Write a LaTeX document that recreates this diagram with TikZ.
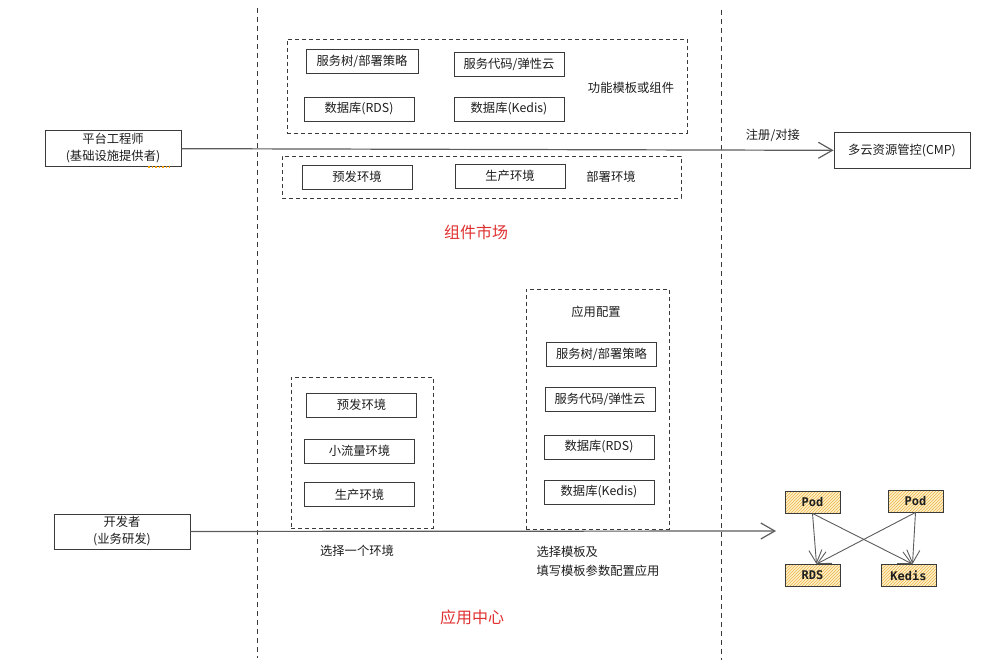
\documentclass[tikz,border=0pt]{standalone}
\usepackage{fontspec}
\setmainfont{Noto Sans CJK SC}
\newfontfamily\podfont{DejaVu Sans Mono}
\usetikzlibrary{arrows.meta, positioning, patterns}
\definecolor{pltInk}{HTML}{1e1e1e}
\definecolor{pltLine}{HTML}{3a3a3a}
\definecolor{pltArrow}{HTML}{5c5c5c}
\definecolor{pltRed}{HTML}{e03131}
\definecolor{pltPod}{HTML}{fdf0c8}
\definecolor{pltHatch}{HTML}{f0b44c}
\definecolor{pltDot}{HTML}{f59f00}

\begin{document}
\begin{tikzpicture}[x=1pt, y=-1pt, font=\fontsize{12.3}{14.5}\selectfont, text=pltInk,
        box/.style={draw=pltLine, line width=0.9pt, fill=white, minimum width=110pt, minimum height=24pt, inner sep=2pt, align=center},
        actor/.style={box, minimum width=136pt, minimum height=36pt, font=\fontsize{12.3}{17}\selectfont},
        grp/.style={draw=pltLine, dash pattern=on 4pt off 3pt, line width=0.8pt, inner sep=0pt},
        lane/.style={draw=pltLine, dash pattern=on 5pt off 4pt, line width=0.8pt},
        heading/.style={text=pltRed, font=\fontsize{16}{18}\selectfont},
        pod/.style={draw=pltLine, line width=0.9pt, preaction={fill=pltPod}, pattern=north east lines, pattern color=pltHatch, minimum width=55pt, minimum height=22pt, inner sep=0pt, font=\podfont\bfseries\fontsize{12}{14}\selectfont},
        flow/.style={-{Straight Barb[length=14pt, width=16pt]}, pltArrow, line width=1.2pt},
        link/.style={-{Straight Barb[length=13pt, width=13pt]}, pltArrow, line width=0.9pt}]
        \useasboundingbox (0,0) rectangle (988,671);
        % lanes
        \coordinate (laneAtop) at (257,8);
        \coordinate (laneAbot) at (257,658);
        \coordinate (laneBtop) at (721,10);
        \coordinate (laneBbot) at (721,660);
        \draw[lane] (laneAtop) -- (laneAbot);
        \draw[lane] (laneBtop) -- (laneBbot);
        % component market
        \node[grp, minimum width=400pt, minimum height=94pt] (tplgrp) at (487,86) {};
        \node[box, minimum width=112pt] (mTree) at (362,61.5) {服务树/部署策略};
        \node[box] (mCode) at (509,64) {服务代码/弹性云};
        \node[box] (mRds) at (359,109) {数据库(RDS)};
        \node[box] (mKedis) at (509,109) {数据库(Kedis)};
        \node (tplLbl) at (631,88) {功能模板或组件};
        \node[grp, minimum width=399pt, minimum height=42pt] (envgrp) at (481.5,177) {};
        \node[box] (mPre) at (357,177) {预发环境};
        \node[box] (mProd) at (510,176) {生产环境};
        \node (envLbl) at (611,177) {部署环境};
        \node[heading] (market) at (476,232) {组件市场};
        \node[actor] (pe) at (113,148.5) {平台工程师\\(基础设施提供者)};
        \node[actor] (cmp) at (902,150.5) {多云资源管控(CMP)};
        \draw[flow] (pe) -- node[pos=0.907, above=5pt, text=pltInk] {注册/对接} (cmp);
        \draw[pltDot, dotted, line width=1.5pt] ([xshift=-33pt]pe.south east) -- ([xshift=-11pt]pe.south east);
        % application center
        \node[grp, minimum width=142pt, minimum height=151pt] (envpick) at (362,452.5) {};
        \node[box] (aPre) at (361.5,405) {预发环境};
        \node[box] (aGray) at (359.5,451) {小流量环境};
        \node[box] (aProd) at (359.5,494.5) {生产环境};
        \node (pickLbl) at (357,551) {选择一个环境};
        \node[grp, minimum width=143pt, minimum height=240pt] (cfggrp) at (597.5,409) {};
        \node (cfgLbl) at (596,312) {应用配置};
        \node[box] (aTree) at (601.5,354) {服务树/部署策略};
        \node[box] (aCode) at (600,399) {服务代码/弹性云};
        \node[box] (aRds) at (599,447) {数据库(RDS)};
        \node[box] (aKedis) at (599,492) {数据库(Kedis)};
        \node[align=left, anchor=west, font=\fontsize{12.3}{19}\selectfont] (cfgNote) at (533,561.5) {选择模板及\\填写模板参数配置应用};
        \node[actor, minimum height=35pt] (dev) at (122,531.5) {开发者\\(业务研发)};
        \coordinate (podin) at (776,531);
        \draw[flow] (dev) -- (podin);
        \node[heading] (appcenter) at (472,617) {应用中心};
        % pods
        \node[pod] (pod1) at (812.5,502) {Pod};
        \node[pod] (pod2) at (915.5,501) {Pod};
        \node[pod] (rds) at (812.5,575.5) {RDS};
        \node[pod] (kedis) at (908.5,575.5) {Kedis};
        \draw[link] (pod1.south) -- ([xshift=4pt]rds.north);
        \draw[link] (pod1.south) -- ([xshift=4pt]kedis.north);
        \draw[link] (pod2.south) -- ([xshift=4pt]rds.north);
        \draw[link] (pod2.south) -- ([xshift=4pt]kedis.north);
      \end{tikzpicture}
\end{document}
